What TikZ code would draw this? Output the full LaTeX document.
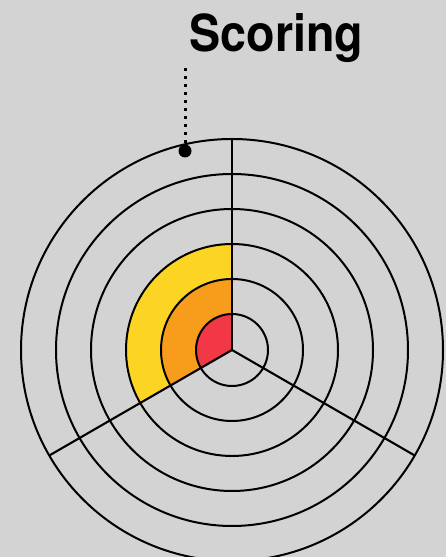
\documentclass[tikz,border=0pt]{standalone}
\usepackage{fontspec}
\setmainfont{TeX Gyre Heros}
\definecolor{bg}{HTML}{D3D3D3}
\definecolor{ylw}{HTML}{FBD424}
\definecolor{org}{HTML}{F89C1C}
\definecolor{rd}{HTML}{F23746}
\begin{document}
\begin{tikzpicture}[x=1pt,y=1pt,
  ring/.style={draw=black,line width=2pt},
  spoke/.style={draw=black,line width=2.1pt}]
\fill[bg] (0,0) rectangle (446,557);
\useasboundingbox (0,0) rectangle (446,557);
\coordinate (c) at (232,207);
% sectors
\fill[ylw] (c) -- ++(90:106) arc[start angle=90,end angle=210,radius=106] -- cycle;
\fill[org] (c) -- ++(90:71) arc[start angle=90,end angle=210,radius=71] -- cycle;
\fill[rd] (c) -- ++(90:36) arc[start angle=90,end angle=210,radius=36] -- cycle;
% rings
\foreach \r in {36,71,106,141,176,211} \draw[ring] (c) circle[radius=\r];
% spokes
\draw[spoke] (c) -- ++(90:211);
\draw[spoke] (c) -- ++(210:211);
\draw[spoke] (c) -- ++(330:211);
% label
\node[anchor=base,font=\bfseries\fontsize{51}{51}\selectfont,inner sep=0pt,xscale=0.915] (title) at (276.5,505) {Scoring};
\node[circle,fill=black,minimum size=13pt,inner sep=0pt] (dot) at (185,406) {};
\coordinate (top) at (185,493);
\draw[line width=3pt,dash pattern=on 3pt off 5pt] (dot.center) -- (top);
\end{tikzpicture}
\end{document}
